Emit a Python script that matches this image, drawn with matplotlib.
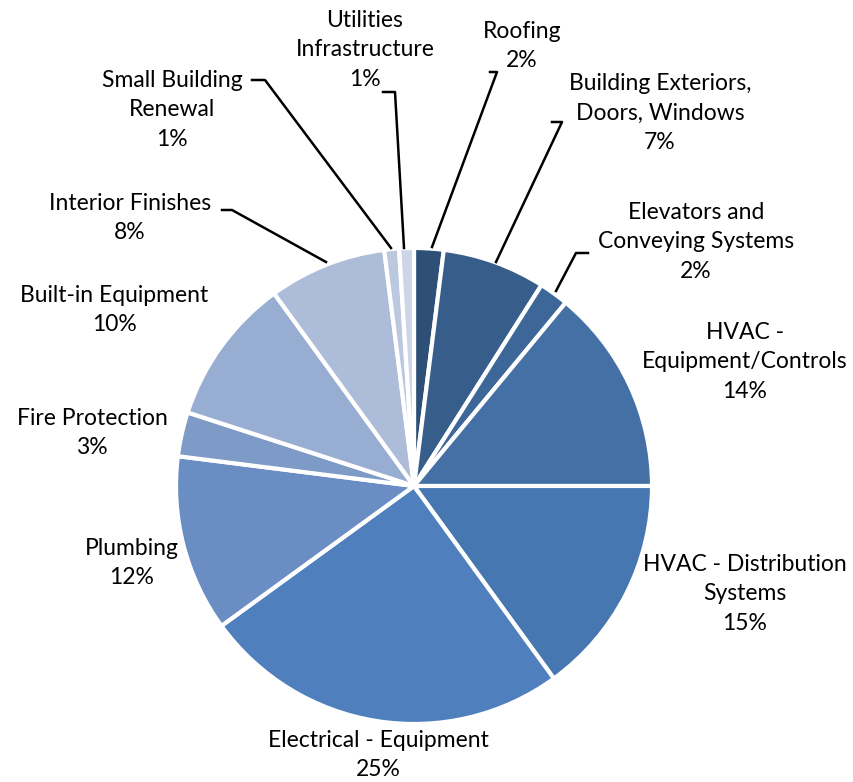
import matplotlib
matplotlib.use("Agg")
from matplotlib import pyplot as plt

# data
categories = ["Roofing", "Building Exteriors,\nDoors, Windows", "Elevators and\nConveying Systems",
              "HVAC -\nEquipment/Controls", "HVAC - Distribution\nSystems", "Electrical - Equipment",
              "Plumbing", "Fire Protection", "Built-in Equipment", "Interior Finishes",
              "Small Building\nRenewal", "Utilities\nInfrastructure"]
values = [2, 7, 2, 14, 15, 25, 12, 3, 10, 8, 1, 1]
colors = ["#2e5077", "#375e8a", "#3d6799", "#4470a6", "#4677b0", "#4f80bd",
          "#6a8ec3", "#7e9bc8", "#97add1", "#adbcd8", "#bcc8e0", "#cdd6e8"]

H = 782
# label centers in pixels (x, y of text center)
label_pos = [(522, 46), (660, 113), (696, 242), (745, 362), (745, 594), (378, 755),
             (132, 563), (92, 433), (114, 310), (130, 218), (172, 110), (365, 50)]
# leader lines in pixels
leaders = {
    0: [(490, 72), (497, 72), (432, 247)],
    1: [(552, 122), (562, 122), (496, 262)],
    2: [(588, 253), (576, 253), (556, 291)],
    9: [(222, 210), (232, 210), (326, 262)],
    10: [(252, 80), (265, 80), (391, 248)],
    11: [(383, 92), (395, 92), (404, 248)],
}

plt.rcParams['font.family'] = ['Lato', 'DejaVu Sans']
fig = plt.figure(figsize=(8.54, 7.82), dpi=100)
ax = fig.add_axes([0, 0, 1, 1])
ax.set_xlim(0, 854)
ax.set_ylim(0, H)
ax.set_aspect('equal')
ax.axis('off')

ax.pie(values, colors=colors, startangle=90, counterclock=False,
       center=(414, H - 486), radius=238,
       wedgeprops=dict(edgecolor="white", linewidth=3))

for i, (name, v) in enumerate(zip(categories, values)):
    x, y = label_pos[i]
    ax.text(x, H - y, name + "\n" + str(v) + "%", ha="center", va="center",
            fontsize=16.5, linespacing=1.52, color="black")

for i, pts in leaders.items():
    ax.plot([p[0] for p in pts], [H - p[1] for p in pts], color="black", linewidth=1.8)

ax.set_xlim(0, 854)
ax.set_ylim(0, H)
fig.savefig("out.png", dpi=100)
